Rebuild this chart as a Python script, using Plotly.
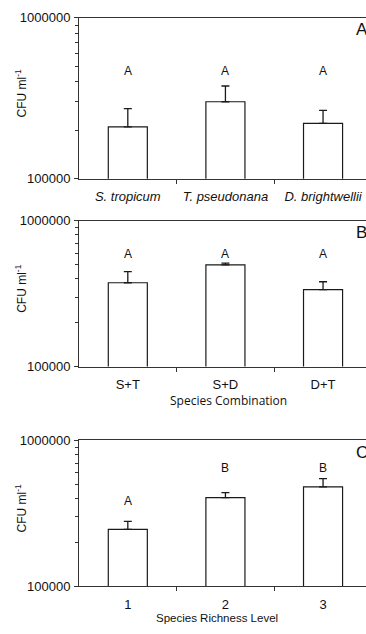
import numpy as np
import plotly.graph_objects as go

# ---- data ----
cats_a = ["S. tropicum", "T. pseudonana", "D. brightwellii"]
vals_a = [2.10e5, 3.01e5, 2.21e5]
errtop_a = [2.73e5, 3.77e5, 2.66e5]
letters_a = ["A", "A", "A"]
letter_y_a = [4.64e5, 4.64e5, 4.64e5]

cats_b = ["S+T", "S+D", "D+T"]
vals_b = [3.76e5, 4.99e5, 3.37e5]
errtop_b = [4.48e5, 5.12e5, 3.82e5]
letters_b = ["A", "A", "A"]
letter_y_b = [5.94e5, 5.94e5, 5.94e5]

cats_c = ["1", "2", "3"]
vals_c = [2.46e5, 4.05e5, 4.81e5]
errtop_c = [2.79e5, 4.39e5, 5.47e5]
letters_c = ["A", "B", "B"]
letter_y_c = [3.87e5, 6.44e5, 6.44e5]

panel_labels = ["A", "B", "C"]
xtitles = [None, "Species Combination", "Species Richness Level"]
ytitle = "CFU ml<sup>-1</sup>"
ytickvals = [1e5, 1e6]
yticktext = ["100000", "1000000"]
yminor = [2e5, 3e5, 4e5, 5e5, 6e5, 7e5, 8e5, 9e5]

W, H = 366, 634
def py(pix):
    return 1 - pix / H

panels = [
    dict(cats=cats_a, vals=vals_a, top=errtop_a, let=letters_a, ly=letter_y_a,
         dom=(176, 11), italic=True),
    dict(cats=cats_b, vals=vals_b, top=errtop_b, let=letters_b, ly=letter_y_b,
         dom=(368.3, 219), italic=False),
    dict(cats=cats_c, vals=vals_c, top=errtop_c, let=letters_c, ly=letter_y_c,
         dom=(593.3, 444), italic=False),
]

LINE = "#333333"
BARLINE = "#1a1a1a"
TXT = "#111111"
FONT = "Liberation Sans, Arial, sans-serif"

fig = go.Figure()
annotations = []
for i, p in enumerate(panels):
    n = "" if i == 0 else str(i + 1)
    xa, ya = "x" + n, "y" + n
    idx = list(range(len(p["cats"])))
    plus = [t - v for t, v in zip(p["top"], p["vals"])]
    fig.add_trace(go.Bar(
        x=idx, y=p["vals"], xaxis=xa, yaxis=ya, width=0.4,
        marker=dict(color="white", line=dict(color=BARLINE, width=1.2)),
        error_y=dict(type="data", symmetric=False, array=plus,
                     arrayminus=[0] * len(plus), color=BARLINE,
                     thickness=1.3, width=4),
        showlegend=False, hoverinfo="skip"))
    ticktext = [f"<i>{c}</i>" for c in p["cats"]] if p["italic"] else p["cats"]
    fig.layout["xaxis" + n] = dict(
        domain=[79 / W, 1], anchor=ya, type="linear",
        range=[-0.5, 2.44], ticks="", showline=True, linecolor=LINE,
        linewidth=1, mirror=True, showgrid=False, zeroline=False,
        tickmode="array", tickvals=idx, ticktext=ticktext,
        ticklabelstandoff=6,
        minor=dict(tickmode="array", tickvals=[0.5, 1.5], ticks="outside",
                   ticklen=4, tickcolor=LINE, showgrid=False),
        tickfont=dict(family=FONT, size=13, color=TXT))
    fig.layout["yaxis" + n] = dict(
        domain=[py(p["dom"][0]), py(p["dom"][1])], anchor=xa, type="log",
        range=[5, 6], tickmode="array", tickvals=ytickvals,
        ticktext=yticktext, ticks="outside", ticklen=4, tickcolor=LINE,
        showline=True, linecolor=LINE, linewidth=1, showgrid=False,
        zeroline=False, ticklabelstandoff=1,
        minor=dict(tickmode="array", tickvals=yminor, ticks="outside",
                   ticklen=3, tickcolor=LINE, showgrid=False),
        tickfont=dict(family=FONT, size=13, color=TXT))
    for k, l, yv in zip(idx, p["let"], p["ly"]):
        annotations.append(dict(x=k, y=np.log10(yv), xref=xa, yref=ya,
                                text=l, showarrow=False, yanchor="middle",
                                font=dict(family=FONT, size=12, color=TXT)))
    # panel label (partly cut at the right edge, as in the original)
    annotations.append(dict(x=354 / W, y=py(p["dom"][1] + 12), xref="paper",
                            yref="paper", xanchor="left", yanchor="middle",
                            text=panel_labels[i], showarrow=False,
                            font=dict(family=FONT, size=17, color=TXT)))
    # y title
    ymid = (p["dom"][0] + p["dom"][1]) / 2 - 5
    annotations.append(dict(x=21 / W, y=py(ymid), xref="paper", yref="paper",
                            text=ytitle, textangle=-90, showarrow=False,
                            xanchor="center", yanchor="middle",
                            font=dict(family=FONT, size=12, color=TXT)))

annotations.append(dict(x=228 / W, y=py(403), xref="paper", yref="paper",
                        text=xtitles[1], showarrow=False, yanchor="middle",
                        font=dict(family="Open Sans, sans-serif", size=12,
                                  color=TXT)))
annotations.append(dict(x=217 / W, y=py(626), xref="paper", yref="paper",
                        text=xtitles[2], showarrow=False, yanchor="middle",
                        font=dict(family=FONT, size=11.5, color=TXT)))

fig.update_layout(
    width=W, height=H, margin=dict(l=0, r=0, t=0, b=0),
    paper_bgcolor="white", plot_bgcolor="white",
    annotations=annotations)

fig.write_html("out.html", config=dict(displayModeBar=False))
